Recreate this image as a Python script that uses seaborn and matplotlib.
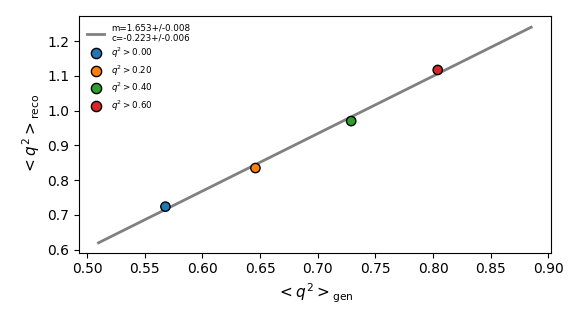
import matplotlib
matplotlib.use("Agg")
import matplotlib.pyplot as plt
import seaborn as sns
import numpy as np
import pandas as pd

gen_mean = [0.568, 0.646, 0.729, 0.804]
reco_mean = [0.724, 0.835, 0.970, 1.117]
cuts = [r"$q^2>0.00$", r"$q^2>0.20$", r"$q^2>0.40$", r"$q^2>0.60$"]
fit_m, fit_m_err = 1.653, 0.008
fit_c, fit_c_err = -0.223, 0.006
fit_x = [0.51, 0.885]

plt.rcParams['font.family'] = ['DejaVu Sans']

fig = plt.figure(figsize=(5.81, 3.27), dpi=100)
ax = fig.add_axes([0.136, 0.227, 0.812, 0.725])

line_df = pd.DataFrame({"x": fit_x, "y": [fit_m * v + fit_c for v in fit_x]})
sns.lineplot(data=line_df, x="x", y="y", ax=ax, color="grey", linewidth=2,
             label=f"m={fit_m:.3f}+/-{fit_m_err:.3f}\nc={fit_c:.3f}+/-{fit_c_err:.3f}")

pts = pd.DataFrame({"gen": gen_mean, "reco": reco_mean, "cut": cuts})
palette = sns.color_palette("tab10", 4)
sns.scatterplot(data=pts, x="gen", y="reco", hue="cut", palette=palette, ax=ax,
                s=45, edgecolor="black", linewidth=1, zorder=3)

ax.set_xlim(0.4931, 0.902)
ax.set_ylim(0.5914, 1.273)
ax.set_xticks(np.arange(0.50, 0.901, 0.05))
ax.set_yticks(np.arange(0.6, 1.21, 0.1))
ax.set_xticklabels([f"{v:.2f}" for v in np.arange(0.50, 0.901, 0.05)])
ax.set_yticklabels([f"{v:.1f}" for v in np.arange(0.6, 1.21, 0.1)])
ax.tick_params(labelsize=10)
ax.set_xlabel(r"$<q^2>_{\rm gen}$", fontsize=11)
ax.set_ylabel(r"$<q^2>_{\rm reco}$", fontsize=11)

ax.legend(loc="upper left", fontsize=6.3, frameon=False, title=None,
          markerscale=1.1, labelspacing=0.35)

fig.savefig("out.png", dpi=100)
